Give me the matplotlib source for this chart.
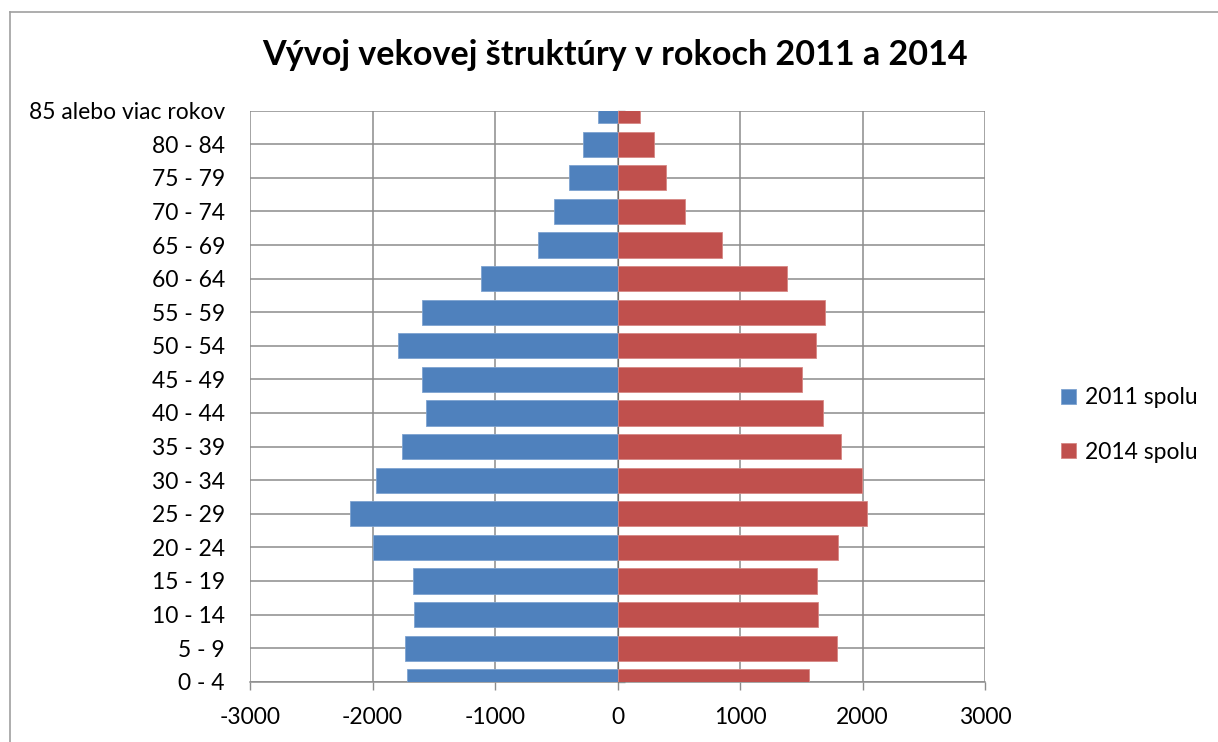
import matplotlib
matplotlib.use("Agg")
import matplotlib.pyplot as plt
from matplotlib.lines import Line2D
import numpy as np

# age groups from bottom to top
categories = ["0 - 4", "5 - 9", "10 - 14", "15 - 19", "20 - 24", "25 - 29",
              "30 - 34", "35 - 39", "40 - 44", "45 - 49", "50 - 54", "55 - 59",
              "60 - 64", "65 - 69", "70 - 74", "75 - 79", "80 - 84",
              "85 alebo viac rokov"]
# 2011 plotted as negative values (left side)
spolu_2011 = [-1717, -1734, -1663, -1671, -1992, -2182, -1975, -1758, -1560,
              -1592, -1793, -1592, -1112, -652, -519, -397, -280, -163]
spolu_2014 = [1560, 1793, 1638, 1626, 1804, 2037, 1999, 1826, 1681,
              1508, 1624, 1695, 1382, 853, 554, 399, 299, 184]
x_ticks = [-3000, -2000, -1000, 0, 1000, 2000, 3000]

FONT = "Lato"
blue = "#4F81BD"
red = "#C0504D"
grid_c = "#8C8C8C"

fig = plt.figure(figsize=(12.18, 7.42), dpi=100)
ax = fig.add_axes([250 / 1218, 1 - 681.7 / 742, 735 / 1218, 571 / 742])

y = np.arange(len(categories))
ax.barh(y, spolu_2011, height=0.75, color=blue, edgecolor="#7EA3D0",
        linewidth=0.6, label="2011 spolu", zorder=3)
ax.barh(y, spolu_2014, height=0.75, color=red, edgecolor="#D68784",
        linewidth=0.6, label="2014 spolu", zorder=3)

ax.set_xlim(-3000, 3000)
ax.set_ylim(0, len(categories) - 1)
ax.set_xticks(x_ticks)
ax.set_xticklabels([str(t) for t in x_ticks], fontsize=16.5, family=FONT)
ax.set_yticks(y)
ax.set_yticklabels(categories, fontsize=16.5, family=FONT)
ax.tick_params(axis="y", length=0, pad=18)
ax.tick_params(axis="x", length=6, width=1, color=grid_c, direction="out", pad=12)

ax.grid(True, color=grid_c, linewidth=1.1, zorder=0)
ax.set_axisbelow(True)
for s in ["left", "right", "top"]:
    ax.spines[s].set_visible(False)
ax.spines["bottom"].set_color(grid_c)
ax.spines["bottom"].set_linewidth(1.1)

# category axis crossing at 0
sec = ax.secondary_yaxis(0.5)
sec.set_yticks(y)
sec.set_yticklabels([])
sec.tick_params(length=5, width=1, color=grid_c, direction="out")
sec.spines["left"].set_color(grid_c)
sec.spines["left"].set_linewidth(1.1)

fig.text(615 / 1218, 1 - 55 / 742, "Vývoj vekovej štruktúry v rokoch 2011 a 2014",
         ha="center", va="center", fontsize=24.6, fontweight="bold", family=FONT)

fig.legend(loc="center left", bbox_to_anchor=(1040 / 1218, 1 - 425 / 742),
           frameon=False, prop={"family": FONT, "size": 16.5},
           handlelength=0.65, handleheight=0.65, handletextpad=0.4,
           labelspacing=1.45)

# outer chart border
fig.add_artist(Line2D([10 / 1218, 10 / 1218], [0, 1 - 12 / 742],
                      color="#A0A0A0", linewidth=1.2))
fig.add_artist(Line2D([10 / 1218, 1], [1 - 12 / 742, 1 - 12 / 742],
                      color="#A0A0A0", linewidth=1.2))

fig.savefig("out.png", dpi=100)
